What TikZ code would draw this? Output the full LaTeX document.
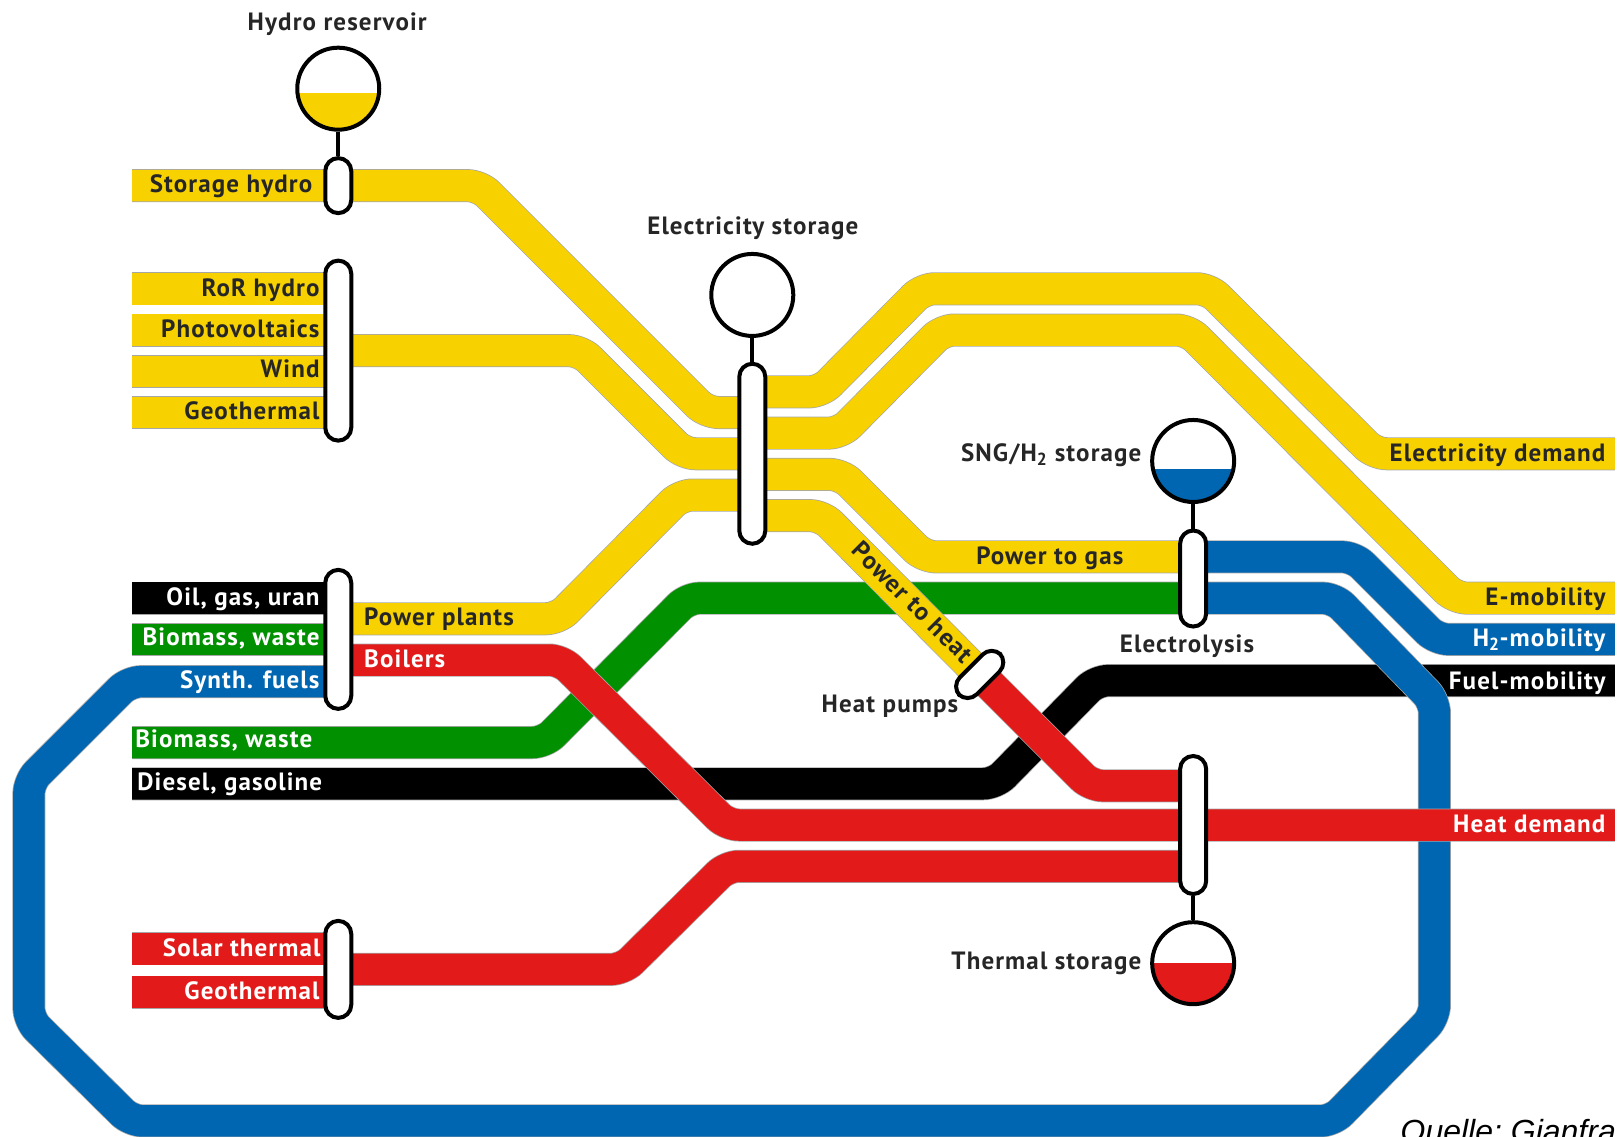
\documentclass[tikz,border=0pt]{standalone}
\usepackage{fontspec}
\setmainfont[LetterSpace=4.5]{PT Sans}
\setmonofont{Liberation Sans}
\usetikzlibrary{backgrounds}

\begin{document}
\begin{tikzpicture}[x=1.03125pt,y=-1.03125pt,
    flow/.style={preaction={draw=black!35,line width=33pt},line width=31.5pt,rounded corners=12pt},
    hub/.style={draw=black,fill=white,line width=4pt,rounded corners=13pt,minimum width=26pt,inner sep=0pt},
    tank/.style={circle,draw=black,fill=white,line width=4pt,minimum size=82pt,inner sep=0pt},
    stem/.style={draw=black,line width=4pt},
    txt/.style={font=\fontsize{25}{25}\selectfont\bfseries,inner sep=0pt,text=black!85,yshift=-6pt},
    txtw/.style={txt,text=white}]
    \definecolor{flow_yellow}{HTML}{F7D200}
    \definecolor{flow_green}{HTML}{009000}
    \definecolor{flow_blue}{HTML}{0066B1}
    \definecolor{flow_red}{HTML}{E21A1A}
    \useasboundingbox (0,0) rectangle (1568,1101.6);
    %\draw[help lines,step=100] (0,0) grid (1568,1101);

    \node[hub,minimum height=55pt] (hub0) at (328,180) {};
    \node[hub,minimum height=180pt] (hub1) at (328,340) {};
    \node[hub,minimum height=139pt] (hub2) at (328,620) {};
    \node[hub,minimum height=97pt] (hub3) at (328,940) {};
    \node[hub,minimum height=180pt] (hub4) at (729.5,440) {};
    \node[hub,minimum height=96pt] (hub5) at (1157,561) {};
    \node[hub,minimum height=138pt] (hub6) at (1157,800) {};
    \node[hub,minimum height=58pt,minimum width=24pt,rotate=-45] (hub7) at (950,654) {};

    \node[tank,path picture={\fill[flow_yellow] ([yshift=-4pt]path picture bounding box.west) rectangle (path picture bounding box.south east);}] (tank0) at (328,86) {};
    \node[tank] (tank1) at (729.5,286) {};
    \node[tank,path picture={\fill[flow_blue] ([yshift=-8pt]path picture bounding box.west) rectangle (path picture bounding box.south east);}] (tank2) at (1157,447) {};
    \node[tank,path picture={\fill[flow_red] (path picture bounding box.west) rectangle (path picture bounding box.south east);}] (tank3) at (1157,934) {};

    \begin{pgfonlayer}{background}
        \draw[stem] (tank0) -- (hub0);
        \draw[stem] (tank1) -- (hub4);
        \draw[stem] (tank2) -- (hub5);
        \draw[stem] (tank3) -- (hub6);

        \draw[flow,draw=black] (128,760) -- (965,760) -- (1063,660) -- (1566,660);

        \draw[flow,draw=flow_green] (128,720) -- (528,720) -- (667,580) -- (hub5 |- 0,580);
        \draw[flow,draw=flow_green] (128,620) -- (hub2 |- 0,620);

        \draw[flow,draw=black] (128,580) -- (hub2 |- 0,580);
        \draw[flow,draw=flow_blue] (hub5 |- 0,540) -- (1313,540) -- (1393,620) -- (1566,620);
        \draw[flow,draw=flow_blue] (hub5 |- 0,580) -- (1294,580) -- (1391,680) -- (1391,986)
            -- (1292,1087) -- (127,1087) -- (28,989) -- (28,758) -- (125,661) -- (hub2 |- 0,661);

        \draw[flow,draw=flow_yellow] (128,180) -- (465,180) -- (685,400) -- (hub4 |- 0,400);
        \draw[flow,draw=flow_yellow] (128,280) -- (hub1 |- 0,280);
        \draw[flow,draw=flow_yellow] (128,320) -- (hub1 |- 0,320);
        \draw[flow,draw=flow_yellow] (128,360) -- (hub1 |- 0,360);
        \draw[flow,draw=flow_yellow] (128,400) -- (hub1 |- 0,400);
        \draw[flow,draw=flow_yellow] (hub1 |- 0,340) -- (563,340) -- (663,440) -- (hub4 |- 0,440);
        \draw[flow,draw=flow_yellow] (hub2 |- 0,600) -- (541,600) -- (660,480) -- (hub4 |- 0,480);
        \draw[flow,draw=flow_yellow] (hub4 |- 0,380) -- (796,380) -- (895,280) -- (1172,280) -- (1333,440) -- (1566,440);
        \draw[flow,draw=flow_yellow] (hub4 |- 0,420) -- (815,420) -- (914,320) -- (1152,320) -- (1411,580) -- (1566,580);
        \draw[flow,draw=flow_yellow] (hub4 |- 0,460) -- (816,460) -- (896,540) -- (hub5 |- 0,540);
        \draw[flow,draw=flow_yellow] (hub4 |- 0,500) -- (797,500) -- (hub7.center);

        \draw[flow,draw=flow_red] (hub7.center) -- (1058,762) -- (hub6 |- 0,762);
        \draw[flow,draw=flow_red] (hub2 |- 0,640) -- (544,640) -- (705,800) -- (1566,800);
        \draw[flow,draw=flow_red] (hub3 |- 0,940) -- (604,940) -- (705,840) -- (hub6 |- 0,840);
        \draw[flow,draw=flow_red] (128,920) -- (hub3 |- 0,920);
        \draw[flow,draw=flow_red] (128,962) -- (hub3 |- 0,962);
    \end{pgfonlayer}

    \node[txt] (lab0) at (327,18) {Hydro reservoir};
    \node[txt,anchor=mid east] (lab1) at (303,178) {Storage hydro};
    \node[txt,anchor=mid east] (lab2) at (310,279) {RoR hydro};
    \node[txt,anchor=mid east] (lab3) at (310,319) {Photovoltaics};
    \node[txt,anchor=mid east] (lab4) at (310,358) {Wind};
    \node[txt,anchor=mid east] (lab5) at (310,399) {Geothermal};
    \node[txt] (lab6) at (730,216) {Electricity storage};
    \node[txt,anchor=mid east] (lab7) at (1107,439) {SNG/H\textsubscript{2} storage};
    \node[txt] (lab8) at (1018,536) {Power to gas};
    \node[txt,rotate=-45] (lab9) at (885,578) {Power to heat};
    \node[txt] (lab10) at (1151,621) {Electrolysis};
    \node[txt] (lab11) at (863,679) {Heat pumps};
    \node[txt,anchor=mid east] (lab12) at (1107,932) {Thermal storage};
    \node[txt,anchor=mid east] (lab13) at (1557,439) {Electricity demand};
    \node[txt,anchor=mid east] (lab14) at (1557,579) {E-mobility};
    \node[txtw,anchor=mid east] (lab15) at (1557,619) {H\textsubscript{2}-mobility};
    \node[txtw,anchor=mid east] (lab16) at (1557,660) {Fuel-mobility};
    \node[txtw,anchor=mid east] (lab17) at (1557,799) {Heat demand};
    \node[txtw,anchor=mid east] (lab18) at (310,579) {Oil, gas, uran};
    \node[txtw,anchor=mid east] (lab19) at (310,618) {Biomass, waste};
    \node[txtw,anchor=mid east] (lab20) at (310,659) {Synth. fuels};
    \node[txt,anchor=mid west] (lab21) at (353,598) {Power plants};
    \node[txtw,anchor=mid west] (lab22) at (353,639) {Boilers};
    \node[txtw,anchor=mid west] (lab23) at (131,717) {Biomass, waste};
    \node[txtw,anchor=mid west] (lab24) at (133,758) {Diesel, gasoline};
    \node[txtw,anchor=mid east] (lab25) at (311,919) {Solar thermal};
    \node[txtw,anchor=mid east] (lab26) at (310,961) {Geothermal};
    \node[inner sep=0pt,anchor=base west,font=\ttfamily\itshape\fontsize{32}{32}\selectfont] (src) at (1358,1108) {Quelle: Gianfra};
\end{tikzpicture}
\end{document}
